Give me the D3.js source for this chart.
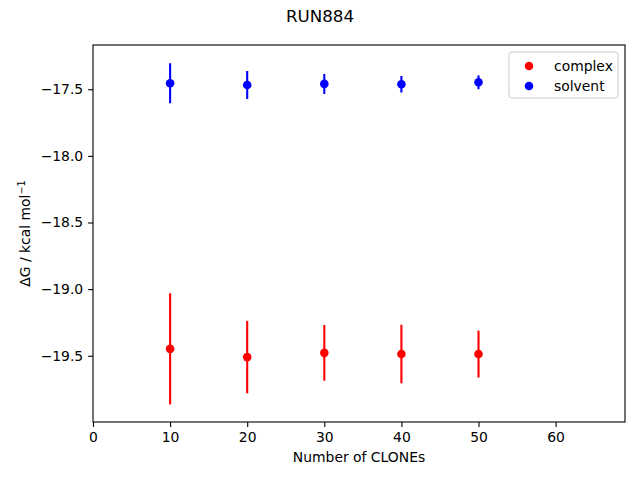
<!DOCTYPE html>
<html>
<head>
<meta charset="utf-8">
<script src="https://cdn.jsdelivr.net/npm/d3@7"></script>
<style>
  body { margin: 0; background: #fff; }
  svg { font-family: "DejaVu Sans", sans-serif; }
</style>
</head>
<body>
<div id="chart"></div>
<script>
//Datos
const clones = [10, 20, 30, 40, 50];
const complexMean = [-19.448, -19.510, -19.478, -19.487, -19.487];
const complexErr = [0.417, 0.272, 0.209, 0.220, 0.176];
const solventMean = [-17.455, -17.468, -17.460, -17.463, -17.448];
const solventErr = [0.150, 0.105, 0.075, 0.062, 0.052];
const xTicks = [0, 10, 20, 30, 40, 50, 60];
const yTicks = [-17.5, -18.0, -18.5, -19.0, -19.5];

const COLOR_COMPLEX = '#ff0000', COLOR_SOLVENT = '#0000ff';

let margin = {top: 45, right: 15, bottom: 58, left: 93},
    width = 640 - margin.left - margin.right,
    height = 480 - margin.top - margin.bottom;

let svg = d3.select("#chart")
    .append("svg")
        .attr("width", 640)
        .attr("height", 480);

let g = svg.append("g")
    .attr("transform", "translate(" + margin.left + "," + margin.top + ")");

let x = d3.scaleLinear().domain([0, 69]).range([0, width]);
let y = d3.scaleLinear().domain([-19.997, -17.168]).range([height, 0]);

//Ejes
let xAxis = g.append("g")
    .attr("transform", "translate(0," + height + ")")
    .call(d3.axisBottom(x).tickValues(xTicks).tickSize(4.9).tickPadding(4.9).tickFormat(d3.format("d")));

let yAxis = g.append("g")
    .call(d3.axisLeft(y).tickValues(yTicks).tickSize(4.9).tickPadding(4.9)
        .tickFormat(function(d) { return d3.format(".1f")(d).replace('-', '\u2212'); }));

[xAxis, yAxis].forEach(function(a) {
    a.select(".domain").remove();
    a.selectAll("line").attr("stroke", "#000").attr("stroke-width", 1.1);
    a.selectAll("text").attr("font-size", "13.9px").attr("fill", "#000")
        .attr("font-family", "DejaVu Sans, sans-serif");
});

g.append("rect")
    .attr("width", width).attr("height", height)
    .attr("fill", "none").attr("stroke", "#000").attr("stroke-width", 1.1);

//Series con barras de error
function drawSeries(means, errs, color) {
    let s = g.append("g");
    s.selectAll("line.err")
        .data(clones)
        .enter()
        .append("line")
        .attr("class", "err")
        .attr("x1", function(d) { return x(d); })
        .attr("x2", function(d) { return x(d); })
        .attr("y1", function(d, i) { return y(means[i] - errs[i]); })
        .attr("y2", function(d, i) { return y(means[i] + errs[i]); })
        .attr("stroke", color)
        .attr("stroke-width", 2.1);
    s.selectAll("circle")
        .data(clones)
        .enter()
        .append("circle")
        .attr("cx", function(d) { return x(d); })
        .attr("cy", function(d, i) { return y(means[i]); })
        .attr("r", 4.3)
        .attr("fill", color);
}

drawSeries(complexMean, complexErr, COLOR_COMPLEX);
drawSeries(solventMean, solventErr, COLOR_SOLVENT);

//Leyenda
let legend = g.append("g")
    .attr("transform", "translate(" + (width - 116) + ",7)");

legend.append("rect")
    .attr("width", 109).attr("height", 46)
    .attr("rx", 3).attr("ry", 3)
    .attr("fill", "#fff").attr("fill-opacity", 0.8)
    .attr("stroke", "#cccccc").attr("stroke-width", 1);

[['complex', COLOR_COMPLEX], ['solvent', COLOR_SOLVENT]].forEach(function(item, i) {
    legend.append("circle")
        .attr("cx", 20).attr("cy", 14 + i * 20)
        .attr("r", 4.3).attr("fill", item[1]);
    legend.append("text")
        .attr("x", 45).attr("y", 14 + i * 20)
        .attr("dy", "0.35em")
        .attr("font-size", "13.9px")
        .text(item[0]);
});

//Títulos
svg.append("text")
    .attr("x", 320).attr("y", 22)
    .attr("text-anchor", "middle")
    .attr("font-size", "16.7px")
    .text("RUN884");

svg.append("text")
    .attr("x", margin.left + width / 2).attr("y", 462)
    .attr("text-anchor", "middle")
    .attr("font-size", "13.9px")
    .text("Number of CLONEs");

let yl = svg.append("text")
    .attr("transform", "translate(30," + (margin.top + height / 2) + ") rotate(-90)")
    .attr("text-anchor", "middle")
    .attr("font-size", "13.9px");
yl.append("tspan").text("\u0394G / kcal mol");
yl.append("tspan").attr("font-size", "9.7px").attr("dy", "-0.5em").text("\u22121");
</script>
</body>
</html>
